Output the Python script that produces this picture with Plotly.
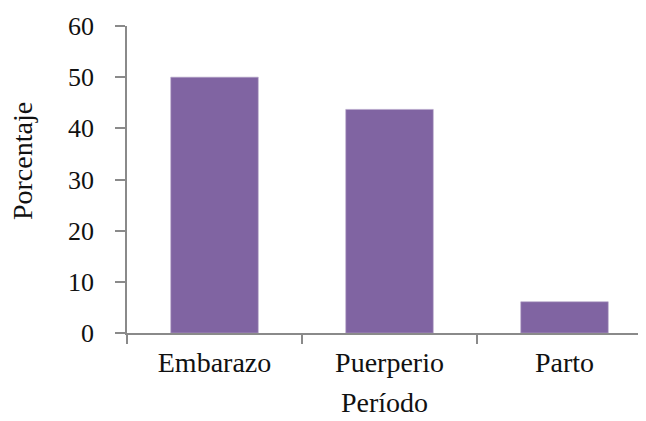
import plotly.graph_objects as go

categories = ["Embarazo", "Puerperio", "Parto"]
values = [50.0, 43.7, 6.1]
y_ticks = [0, 10, 20, 30, 40, 50, 60]
x_title = "Período"
y_title = "Porcentaje"

FONT = "Liberation Serif"
AXIS = "#8a8a8a"

fig = go.Figure(go.Bar(
    x=categories, y=values, width=0.5,
    marker=dict(color="#8064A2", line=dict(color="#B3A2C7", width=0.6)),
))

fig.update_layout(
    width=646, height=421,
    margin=dict(l=119, r=2, t=18, b=96),
    paper_bgcolor="white", plot_bgcolor="white",
    font=dict(family=FONT, size=28, color="#111111"),
    showlegend=False,
    xaxis=dict(
        range=[-0.5, 2.5],
        showline=True, linecolor=AXIS, linewidth=1.6,
        ticks="outside", ticklen=9, tickwidth=1.6, tickcolor=AXIS,
        tickson="boundaries", showgrid=False, zeroline=False,
        tickfont=dict(family=FONT, size=28, color="#111111"),
        ticklabelstandoff=4,
    ),
    yaxis=dict(
        range=[0, 60], tickvals=y_ticks,
        showline=True, linecolor=AXIS, linewidth=1.6,
        ticks="outside", ticklen=10, tickwidth=1.6, tickcolor=AXIS,
        showgrid=False, zeroline=False,
        tickfont=dict(family=FONT, size=26, color="#111111"),
        ticklabelstandoff=16,
    ),
    annotations=[
        dict(text=y_title, xref="paper", yref="paper", x=-0.2, y=0.56,
             xanchor="center", yanchor="middle", textangle=-90, showarrow=False,
             font=dict(family=FONT, size=28, color="#111111")),
        dict(text=x_title, xref="paper", yref="paper", x=0.491, y=-0.226,
             xanchor="center", yanchor="middle", showarrow=False,
             font=dict(family=FONT, size=28, color="#111111")),
    ],
)

fig.write_html("out.html")
